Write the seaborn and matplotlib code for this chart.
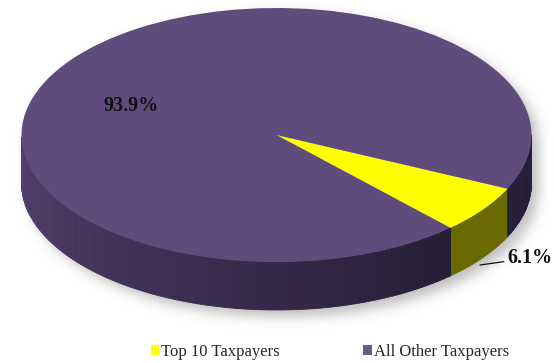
import numpy as np
import matplotlib
matplotlib.use("Agg")
import matplotlib.pyplot as plt
from matplotlib.patches import Patch, Polygon
import seaborn as sns

# Share of revenue
categories = ["Top 10 Taxpayers", "All Other Taxpayers"]
shares = [6.1, 93.9]
top_colors = ["#ffff00", "#5f4b7c"]

sns.set_theme(style="white")
plt.rcParams["font.family"] = ["Liberation Serif", "DejaVu Serif"]

W, H = 554, 363
fig = plt.figure(figsize=(W / 100, H / 100), dpi=100)
ax = fig.add_axes([0, 0, 1, 1])

# pixel-like frame: x in px, y squashed so the pie disc reads as a tilted ellipse
tilt = 0.498
cx, cy_px = 276.5, 135.0
radius = 255.0
depth_px = 48.0


def ydat(y_px):
    return (H - y_px) / tilt


cy = ydat(cy_px)
depth = depth_px / tilt
start = -47.0

# soft drop shadow under the disc
gx = np.arange(W) + 0.5
gy = np.arange(H) + 0.5
GX, GY = np.meshgrid(gx, gy)
sx, sy = 7.0, 7.0
e_top = ((GX - cx - sx) / radius) ** 2 + ((GY - cy_px - sy) / (radius * tilt)) ** 2 <= 1
e_bot = ((GX - cx - sx) / radius) ** 2 + ((GY - cy_px - depth_px - sy) / (radius * tilt)) ** 2 <= 1
band = (np.abs(GX - cx - sx) <= radius) & (GY >= cy_px + sy) & (GY <= cy_px + depth_px + sy)
mask = (e_top | e_bot | band).astype(float)
sig = 6.0
k = np.arange(-20, 21)
kern = np.exp(-k ** 2 / (2 * sig ** 2))
kern /= kern.sum()
blur = np.apply_along_axis(lambda r: np.convolve(r, kern, mode="same"), 1, mask)
blur = np.apply_along_axis(lambda c: np.convolve(c, kern, mode="same"), 0, blur)
rgba = np.zeros((H, W, 4))
rgba[..., :3] = 0.45
rgba[..., 3] = blur * 0.45
ax.imshow(rgba, extent=[0, W, ydat(H), ydat(0)], origin="upper", aspect="auto", zorder=0)

# side wall, shaded from left to right
bounds = np.cumsum([0] + shares) / sum(shares) * 360.0 + start


def wall_color(name, theta):
    t = np.clip((theta - 180.0) / 130.0, 0, 1)
    if name == categories[0]:
        c0, c1 = np.array([122, 120, 0]), np.array([106, 104, 0])
    else:
        c0, c1 = np.array([84, 64, 110]), np.array([38, 30, 54])
    return (c0 + (c1 - c0) * t) / 255.0


step = 1.0
for name, a0, a1 in zip(categories, bounds[:-1], bounds[1:]):
    th = a0
    while th < a1:
        th1 = min(th + step, a1)
        m0, m1 = th % 360, (th1 - 1e-9) % 360
        if m0 >= 180 and m1 >= 180 and m1 >= m0:
            ang = np.radians(np.linspace(m0, m0 + (th1 - th), 4))
            xs = cx + radius * np.cos(ang)
            ys = cy + radius * np.sin(ang)
            pts = np.column_stack([np.r_[xs, xs[::-1]], np.r_[ys, ys[::-1] - depth]])
            col = wall_color(name, (m0 + m0 + (th1 - th)) / 2)
            ax.add_patch(Polygon(pts, closed=True, facecolor=col, edgecolor=col,
                                 linewidth=0.6, zorder=2))
        th = th1

# top of the disc
wedges, _ = ax.pie(shares, colors=top_colors, startangle=start, counterclock=True,
                   center=(cx, cy), radius=radius, frame=True,
                   wedgeprops=dict(linewidth=0, edgecolor="none"))
for w in wedges:
    w.set_zorder(3)

ax.set_xlim(0, W)
ax.set_ylim(ydat(H), ydat(0))
ax.set_aspect("auto")
ax.axis("off")

# value labels
ax.text(131, ydat(106), f"{shares[1]:.1f}%", ha="center", va="center",
        fontsize=14.5, fontweight="bold", color="#111111", zorder=5)
ax.annotate(f"{shares[0]:.1f}%", xy=(480, ydat(265)), xytext=(507, ydat(258)),
            ha="left", va="center", fontsize=14.5, fontweight="bold", color="#111111",
            arrowprops=dict(arrowstyle="-", color="#111111", lw=0.9,
                            shrinkA=0, shrinkB=0),
            zorder=5)

handles = [Patch(facecolor=top_colors[0], edgecolor="none"),
           Patch(facecolor="#6c5a8a", edgecolor="none")]
fig.legend(handles, categories, loc="center", ncol=2, frameon=False,
           bbox_to_anchor=(330 / W, 1 - 352 / H), fontsize=12,
           handlelength=0.5, handleheight=0.55, handletextpad=0.15,
           columnspacing=5.0, borderaxespad=0)

fig.savefig("out.png", dpi=100)
